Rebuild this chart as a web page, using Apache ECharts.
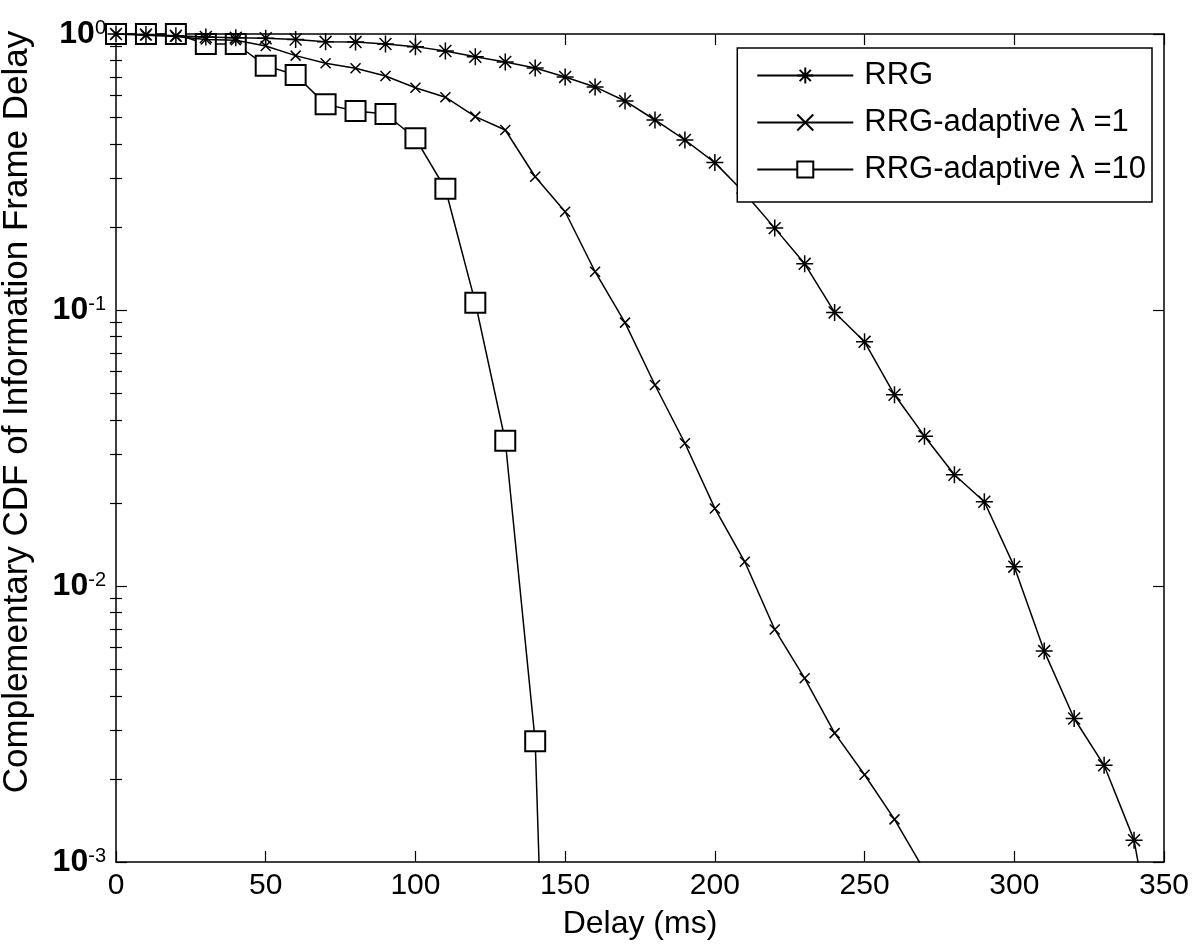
<!DOCTYPE html>
<html>
<head>
<meta charset="utf-8">
<script src="https://cdn.jsdelivr.net/npm/echarts@6/dist/echarts.min.js"></script>
<style>
  html, body { margin: 0; padding: 0; background: #fff; }
  #chart { width: 1200px; height: 946px; }
</style>
</head>
<body>
<div id="chart"></div>
<script>
// ---- data ----
const seriesNames = ['RRG', 'RRG-adaptive \u03bb =1', 'RRG-adaptive \u03bb =10'];

const rrgDelay = [0,10,20,30,40,50,60,70,80,90,100,110,120,130,140,150,160,170,180,190,200,210,220,230,240,250,260,270,280,290,300,310,320,330,340,350];
const rrgCcdf  = [1.0,0.995,0.985,0.975,0.97,0.965,0.955,0.937,0.935,0.92,0.90,0.868,0.827,0.792,0.753,0.699,0.643,0.572,0.488,0.413,0.342,0.265,0.198,0.147,0.098,0.0767,0.0493,0.0349,0.0253,0.0202,0.01175,0.00581,0.00331,0.00224,0.0012,0.0003];

const ad1Delay = [0,10,20,30,40,50,60,70,80,90,100,110,120,130,140,150,160,170,180,190,200,210,220,230,240,250,260,270];
const ad1Ccdf  = [1.0,0.99,0.98,0.955,0.95,0.905,0.835,0.783,0.751,0.704,0.639,0.59,0.502,0.449,0.304,0.227,0.1376,0.090,0.0535,0.0329,0.0191,0.01224,0.00696,0.00463,0.00293,0.00207,0.001427,0.00093];

const ad10Delay = [0,10,20,30,40,50,60,70,80,90,100,110,120,130,140,150];
const ad10Ccdf  = [1.0,1.0,1.0,0.92,0.92,0.768,0.71,0.556,0.526,0.513,0.419,0.275,0.1063,0.0336,0.00274,0.000001];

const xTickValues = [0,50,100,150,200,250,300,350];
const yTickExponents = ['-3','-2','-1','0'];
const yMinorTicks = [0.002,0.003,0.004,0.005,0.006,0.007,0.008,0.009,
                     0.02,0.03,0.04,0.05,0.06,0.07,0.08,0.09,
                     0.2,0.3,0.4,0.5,0.6,0.7,0.8,0.9];

// ---- chart ----
const FONT = 'Liberation Sans, Arial, Helvetica, sans-serif';
const pairs = (xs, ys) => xs.map((x, i) => [x, ys[i]]);

const ASTERISK = 'path://M5,0L5,10M0,5L10,5M1.5,1.5L8.5,8.5M1.5,8.5L8.5,1.5';
const CROSS = 'path://M0,0L10,10M0,10L10,0';

const axisLineStyle = { color: '#000', width: 1.5 };

function yLabel(v) {
  const e = String(Math.round(Math.log10(v)));
  if (yTickExponents.indexOf(e) < 0) return '';
  return '{b|10}{s|' + e + '}';
}

const baseX = {
  type: 'value', min: 0, max: 350, interval: 50,
  axisLine: { show: true, lineStyle: axisLineStyle },
  axisTick: { show: true, inside: true, length: 11, lineStyle: { color: '#000', width: 1.2 }, customValues: xTickValues },
  splitLine: { show: false }
};
const baseY = {
  type: 'log', logBase: 10, min: 0.001, max: 1,
  axisLine: { show: true, onZero: false, lineStyle: axisLineStyle },
  axisTick: { show: true, inside: true, length: 11, lineStyle: { color: '#000', width: 1.2 } },
  splitLine: { show: false },
  minorTick: { show: false }
};

const option = {
  backgroundColor: '#fff',
  animation: false,
  textStyle: { fontFamily: FONT, color: '#000' },
  grid: { left: 116, top: 34, right: 36, bottom: 84, containLabel: false, outerBoundsMode: 'none' },
  legend: {
    orient: 'vertical',
    right: 48, top: 48,
    backgroundColor: '#fff',
    borderColor: '#000', borderWidth: 1.5, borderRadius: 0,
    padding: [12, 6, 17, 19],
    itemGap: 16,
    itemWidth: 96, itemHeight: 20,
    selectedMode: false,
    textStyle: { fontFamily: FONT, fontSize: 31, color: '#000', padding: [0, 0, 0, 6] },
    data: seriesNames
  },
  xAxis: [
    Object.assign({}, baseX, {
      position: 'bottom',
      name: 'Delay (ms)', nameLocation: 'middle', nameGap: 46,
      nameTextStyle: { fontFamily: FONT, fontSize: 32, color: '#000' },
      axisLabel: { show: true, margin: 9, fontFamily: FONT, fontSize: 30, color: '#000', customValues: xTickValues }
    }),
    Object.assign({}, baseX, { position: 'top', axisLabel: { show: false } })
  ],
  yAxis: [
    Object.assign({}, baseY, {
      position: 'left',
      name: 'Complementary CDF of Information Frame Delay',
      nameLocation: 'middle', nameGap: 81,
      nameTextStyle: { fontFamily: FONT, fontSize: 35, color: '#000', padding: [0, 0, 0, 72] },
      axisLabel: {
        show: true, margin: 10, formatter: yLabel,
        rich: {
          b: { fontFamily: FONT, fontSize: 32, color: '#000', fontWeight: 'bold' },
          s: { fontFamily: FONT, fontSize: 20, color: '#000', verticalAlign: 'top' }
        }
      }
    }),
    Object.assign({}, baseY, { position: 'right', axisLabel: { show: false } }),
    Object.assign({}, baseY, {
      position: 'left', axisLine: { show: false }, axisLabel: { show: false },
      axisTick: { show: true, inside: true, length: 6, lineStyle: { color: '#000', width: 1.2 }, customValues: yMinorTicks }
    }),
    Object.assign({}, baseY, {
      position: 'right', axisLine: { show: false }, axisLabel: { show: false },
      axisTick: { show: true, inside: true, length: 6, lineStyle: { color: '#000', width: 1.2 }, customValues: yMinorTicks }
    })
  ],
  series: [
    {
      name: seriesNames[0], type: 'line', xAxisIndex: 0, yAxisIndex: 0,
      data: pairs(rrgDelay, rrgCcdf),
      symbol: ASTERISK, symbolSize: 17,
      itemStyle: { color: '#000', borderColor: '#000', borderWidth: 1.5 },
      lineStyle: { color: '#000', width: 1.5 },
      clip: true, z: 3
    },
    {
      name: seriesNames[1], type: 'line', xAxisIndex: 0, yAxisIndex: 0,
      data: pairs(ad1Delay, ad1Ccdf),
      symbol: CROSS, symbolSize: 10,
      itemStyle: { color: '#000', borderColor: '#000', borderWidth: 1.5 },
      lineStyle: { color: '#000', width: 1.5 },
      clip: true, z: 3
    },
    {
      name: seriesNames[2], type: 'line', xAxisIndex: 0, yAxisIndex: 0,
      data: pairs(ad10Delay, ad10Ccdf),
      symbol: 'emptyRect', symbolSize: 20,
      itemStyle: { color: '#000', borderColor: '#000', borderWidth: 1.5 },
      lineStyle: { color: '#000', width: 1.5 },
      clip: true, z: 2
    }
  ]
};

const chart = echarts.init(document.getElementById('chart'), null, { renderer: 'canvas' });
chart.setOption(option);
</script>
</body>
</html>
